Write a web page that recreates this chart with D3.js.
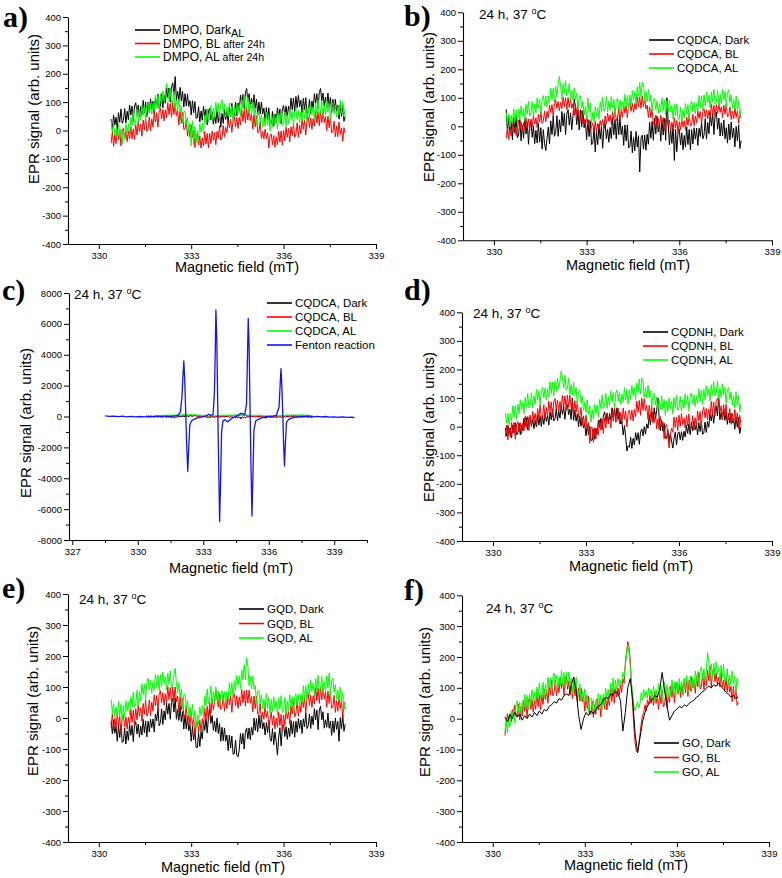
<!DOCTYPE html>
<html>
<head>
<meta charset="utf-8">
<script src="https://cdn.jsdelivr.net/npm/d3@7"></script>
<style>
  html, body { margin: 0; padding: 0; background: #ffffff; }
  svg { display: block; }
  text { font-family: "Liberation Sans", Arial, sans-serif; fill: #000; }
</style>
</head>
<body>
<script>
// ---------------- DATA ----------------
// Field sweep of the noisy spectra (mT); samples are evenly spaced between these ends
const sweepStart = 330.4;
const sweepEnd = 338.0;

// a) DMPO
const dmpoDark = [40,5,54,19,47,5,63,29,76,25, 35,77,26,68,38,90,54,86,34,86, 98,59,90,48,84,55,106,62,100,49, 100,64,112,76,103,60,117,82,128,76, 85,129,80,124,96,150,116,150,100,154, 168,125,190,106,138,105,152,104,138,83, 130,87,128,85,105,55,105,63,102,43, 45,84,30,69,36,85,46,75,20,69, 78,37,66,22,56,25,74,28,64,11, 60,25,74,39,67,25,83,49,96,45, 55,100,52,97,70,125,92,127,78,133, 148,104,130,83,114,80,126,77,110,54, 100,58,100,58,79,30,81,40,80,22, 25,67,16,58,28,80,44,76,24,76, 88,52,86,47,86,60,114,73,114,66, 120,80,124,84,107,60,113,74,116,60, 65,109,60,104,76,130,96,130,80,134, 148,105,132,86,118,85,132,84,117,63, 110,68,110,68,89,40,91,50,90,32, 50];
const dmpoBL = [-45,-4,-56,-15,-46,5,-32,-1,-54,-3, 8,-30,-2,-39,-2,-30,12,-29,6,-32, 20,-16,32,-4,23,-20,37,2,48,-4, 5,48,-2,41,12,65,30,63,12,65, 78,41,74,34,72,45,98,56,96,47, 100,56,96,52,71,20,69,26,64,4, 5,39,-20,14,-24,20,-24,0,-60,-16, -12,-51,-20,-62,-26,-55,-4,-48,-10,-61, -10,-46,-2,-34,-7,-50,-3,-28,16,-34, -25,18,-22,11,-8,35,10,40,-6,35, 48,12,46,7,46,20,74,33,74,26, 80,37,78,35,55,5,55,13,52,-7, -5,30,-28,-3,-30,5,-28,-8,-62,-17, -12,-50,-18,-59,-22,-50,-2,-41,-2,-52, 0,-36,12,-24,7,-40,13,-18,26,-24, -15,27,-24,18,-12,40,4,36,-16,36, 48,11,44,4,42,15,68,26,66,17, 70,28,70,28,49,0,51,10,50,-8, -5,33,-22,16,-22,30,-14,8,-38,10, -10];
const dmpoAL = [38,-5,22,-16,8,-25,22,-26,6,-47, 0,-31,22,-9,23,-15,47,17,68,21, 35,77,26,68,38,90,54,86,34,86, 98,62,96,57,96,70,124,83,124,76, 130,93,140,103,129,165,141,105,150,97, 105,137,76,108,68,110,64,86,24,66, 68,22,46,-3,26,-55,34,-50,14,-44, 0,-30,24,-6,27,-10,53,24,76,30, 45,87,36,78,48,100,64,96,44,96, 108,66,94,49,82,50,98,51,86,32, 80,46,96,62,91,50,109,76,124,74, 85,119,60,94,56,100,56,80,20,64, 68,27,56,12,46,15,64,18,54,-1, 50,13,60,23,49,5,61,25,70,17, 25,66,14,55,24,75,38,69,16,67, 78,39,70,28,64,35,86,42,80,29, 80,44,92,56,83,40,97,62,108,56, 65,104,50,89,56,105,66,95,40,89, 98,59,90,48,84,55,106,62,100,49, 80];

// b) and c) CQDCA
const cqdcaDark = [60,-26,37,-17,17,-47,29,-24,37,-40, -31,24,-51,4,-42,27,-27,14,-63,6, 19,-39,1,-61,-14,-58,10,-55,-5,-80, -12,-61,-85,-42,-3,-62,19,-29,37,-35, -21,37,-35,23,-20,52,1,45,-29,43, 59,4,47,-12,38,95,68,6,59,-13, 58,-2,55,-5,23,-47,23,-36,19,-64, -61,-4,-90,-20,-64,7,-45,-2,-77,-6, 9,-44,-11,-56,-4,-43,30,-30,24,-45, 28,-30,29,-29,1,-67,5,-52,5,-76, -71,-17,-93,-39,-86,-18,-73,-33,-160,-43, -31,-80,-31,-84,-28,-63,14,-42,17,-49, 28,-27,35,-20,13,-52,23,-31,29,-49, 100,12,-65,-12,-60,7,-120,-10,-89,-22, -11,-66,-23,-82,-32,-73,-2,-64,-11,-83, -12,-62,-5,-45,-7,-67,-7,-36,16,-44, -31,27,-45,13,-26,46,1,45,-29,43, 49,-10,29,-34,12,-33,22,-44,-5,-59, 8,-47,15,-40,-7,-72,-1,-51,5,-78, -50];
const cqdcaBL = [-42,-7,-46,-11,-34,9,-18,-3,-32,-3, 22,-9,16,-17,12,-11,30,-5,26,-15, 26,-2,36,8,30,-4,42,14,52,10, 18,54,16,52,30,74,48,76,36,80, 92,62,87,55,84,62,103,69,100,60, 101,66,98,63,79,38,78,43,75,26, 28,55,8,25,4,39,4,23,-16,-1, 12,-17,18,-21,10,-11,20,-1,24,-7, 36,8,46,18,40,6,52,24,62,20, 28,62,22,56,32,74,46,72,30,72, 82,53,80,49,80,59,102,69,102,63, 106,69,98,61,74,31,68,31,60,9, 8,39,-4,27,0,39,8,31,-14,25, 32,1,22,-17,14,-11,30,-5,20,-23, 16,-12,26,-2,20,-14,32,4,42,0, 8,42,2,36,12,54,28,52,10,52, 62,32,58,26,56,34,76,42,74,34, 76,45,80,49,68,31,74,43,78,33, 38,68,24,54,26,64,32,54,10,46, 30];
const cqdcaAL = [48,10,42,-3,38,10,62,19,58,8, 60,24,72,36,63,20,77,42,88,36, 45,87,36,78,48,100,64,96,44,96, 108,72,106,67,106,80,134,93,134,86, 140,103,150,175,139,95,151,115,160,107, 115,150,92,127,90,135,92,117,58,103, 108,63,88,40,70,30,100,50,82,5, 50,17,68,35,65,25,85,53,102,53, 65,104,50,89,56,105,66,95,40,89, 98,60,92,51,88,60,112,69,108,58, 110,76,126,92,121,80,139,106,154,104, 155,149,90,124,86,130,86,110,50,94, 98,58,88,45,80,50,100,55,92,40, 90,49,92,51,73,25,77,37,78,21, 25,67,16,58,28,80,44,76,24,76, 88,51,84,44,82,55,108,66,106,57, 110,73,120,83,109,65,121,85,130,77, 85,125,72,112,80,130,92,122,68,118, 128,84,110,63,94,60,106,57,90,34, 60];

// c) Fenton reaction: [field (mT), signal]
const fentonSpectrum = [
  [328.5,40],[328.7,10],[328.9,30],[329.1,-10],[329.3,20],[329.5,-20],[329.7,10],[329.9,-30],
  [330.1,0],[330.3,-20],[330.5,10],[330.7,-10],[330.9,20],[331.1,0],[331.3,30],[331.5,10],
  [331.7,40],[331.85,80],[331.95,300],[332.02,1200],[332.07,2600],[332.11,3600],[332.15,2400],
  [332.19,600],[332.24,-1800],[332.29,-3550],[332.33,-2200],[332.38,-600],[332.45,-300],
  [332.55,-200],[332.7,-100],[332.9,-40],[333.1,20],[333.25,150],[333.35,60],[333.45,150],
  [333.51,1500],[333.55,4200],[333.58,6900],[333.62,5000],[333.66,1000],[333.71,-3500],
  [333.75,-6800],[333.79,-4500],[333.84,-1000],[333.9,-300],[334.0,-200],[334.1,-350],
  [334.2,-250],[334.35,-80],[334.5,20],[334.6,60],[334.7,200],[334.8,180],[334.9,120],
  [334.98,800],[335.02,3500],[335.06,6350],[335.1,4500],[335.14,800],[335.19,-3500],
  [335.23,-6450],[335.27,-4200],[335.32,-900],[335.4,-300],[335.5,-200],[335.65,-100],
  [335.8,-40],[336.0,0],[336.2,30],[336.35,80],[336.47,600],[336.52,2000],[336.56,3100],
  [336.6,2000],[336.64,200],[336.68,-1800],[336.72,-3200],[336.76,-1800],[336.81,-400],
  [336.9,-200],[337.0,-120],[337.2,-50],[337.4,-20],[337.6,0],[337.8,30],[338.0,-20],
  [338.2,10],[338.4,-30],[338.6,0],[338.8,-40],[339.0,-20],[339.2,-50],[339.4,-30],
  [339.6,-60],[339.8,-40],[339.93,-80]
];

// d) CQDNH
const cqdnhDark = [-4,-33,4,-25,-4,-39,6,-23,14,-29, -22,12,-28,6,-14,30,2,32,-12,32, 32,1,26,-7,22,-1,40,5,36,1, 36,8,46,18,40,6,52,24,62,20, 28,62,21,55,30,72,43,69,26,68, 77,42,62,25,100,22,58,19,45,0, 36,1,31,-5,10,-32,7,-29,2,-48, -47,-9,-44,-6,-25,22,-2,29,-9,38, 52,22,48,16,46,24,66,32,64,24, 66,25,50,9,18,-29,4,-37,-85,-67, -72,-37,-76,-41,-64,-21,-48,-21,-62,-19, -8,-32,0,-26,10,-6,42,6,52,18, 66,28,56,100,30,-14,22,-16,12,-40, -42,-11,-54,-23,-50,-75,-42,-19,-64,-25, -18,-46,-18,-48,-16,-36,4,-24,10,-28, 16,-15,20,-11,8,-29,14,-17,18,-27, -22,16,-20,18,-2,44,20,50,12,58, 72,38,110,24,50,24,62,22,52,8, 46,13,46,13,30,-9,32,-1,32,-24, 0];
const cqdnhBL = [-35,6,-46,-5,-36,15,-22,15,-44,7, 18,-19,14,-26,12,-15,38,-4,36,-13, 40,5,54,19,47,5,63,29,76,25, 35,77,26,68,38,90,54,86,34,86, 98,60,92,51,88,60,110,69,108,58, 110,68,110,68,89,40,91,50,90,32, 35,67,6,38,2,40,-6,14,-58,-4, -2,-55,-4,-43,-4,-30,24,-13,24,-24, 30,-5,44,9,37,-5,53,19,66,15, 25,64,10,49,16,65,26,55,0,49, 58,23,58,20,60,35,90,50,92,40, 100,57,98,55,75,25,75,33,72,13, 15,50,-8,27,-10,35,0,17,-42,3, 8,-28,-75,-33,-6,-20,34,-3,34,-14, 40,1,46,7,31,-5,39,3,44,-11, -5,38,-12,31,2,55,20,53,2,55, 68,31,64,24,62,35,88,46,86,37, 90,100,92,51,73,25,77,37,78,21, 25,63,8,46,12,60,20,48,-8,40, 5];
const cqdnhAL = [48,12,46,7,46,20,74,33,74,26, 80,45,94,59,87,45,103,69,116,65, 75,117,66,108,78,130,94,126,74,126, 138,101,134,94,132,105,158,116,156,107, 160,123,170,133,159,195,171,135,180,127, 135,170,112,147,110,155,112,137,78,123, 128,82,106,57,86,50,94,43,74,16, 60,27,78,45,75,35,95,63,112,63, 75,116,64,105,74,125,88,119,66,117, 128,89,120,78,114,85,136,92,130,79, 130,95,144,109,137,95,153,119,166,115, 170,160,102,137,100,145,102,127,68,113, 118,76,104,59,92,60,108,61,96,40, 90,53,100,63,89,45,101,65,110,57, 65,106,54,95,64,115,78,109,56,107, 118,80,112,71,108,80,132,89,128,78, 130,94,142,106,133,90,147,112,158,108, 115,160,98,136,102,150,112,138,82,130, 138,95,122,76,108,65,122,74,108,53, 80];

// e) GQD
const gqdDark = [-10,-51,-8,-49,-27,-75,-23,-63,-22,-79, -75,-33,-84,-42,-72,-20,-56,-24,-76,-24, -12,-51,-20,-62,-26,-55,-4,-48,-10,-61, -10,-45,-4,-31,-3,-45,13,-9,32,-25, -15,29,-21,23,-6,48,13,47,-4,50, 63,19,65,-4,27,-8,38,-12,21,-36, 10,-35,4,-41,-23,-75,-27,-71,-34,-95, -95,-47,-92,-44,-68,-10,-40,-2,-48,2, 28,-17,8,-40,-10,-45,0,-50,-18,-75, -30,-73,-32,-75,-55,-105,-55,-97,-58,-117, -115,-71,-120,-125,-104,-50,-84,-50,-100,-46, -32,-67,-32,-70,-30,-55,0,-40,-2,-45, 10,-33,8,-35,-15,-55,-15,-47,-8,-67, -75,-34,-86,-45,-76,-120,-62,-31,-90,-29, -22,-60,-28,-69,-32,-60,-8,-51,-12,-62, -10,-46,-2,-34,-7,-50,-3,-28,16,-34, -25,13,-34,6,-22,30,-6,26,-38,26, 38,-6,20,-33,-6,-30,16,-33,-10,-56, -10,-47,0,-37,-11,-75,1,-35,10,-43, -20];
const gqdBL = [-25,14,-40,-1,-34,15,-24,5,-50,1, 8,-29,4,-36,2,-25,28,-14,26,-23, 30,-6,42,6,33,-10,47,12,58,6, 15,58,8,51,22,75,40,73,22,75, 88,50,82,41,78,50,102,59,98,48, 100,56,100,52,71,20,69,26,64,4, 5,39,-20,14,-24,20,-24,0,-60,-16, -12,-45,-8,-44,-2,-25,32,-6,38,-7, 50,14,62,26,53,90,61,36,78,28, 35,75,22,62,30,80,42,72,18,68, 78,40,72,31,68,40,92,49,88,38, 90,48,90,48,69,20,71,30,70,12, 15,46,-6,18,-4,40,2,22,-30,-6, 18,-22,8,-35,0,-30,20,-25,12,-40, 10,-24,26,-2,21,-20,39,13,54,4, 15,57,6,48,18,70,34,66,14,66, 78,41,74,34,72,45,98,56,96,47, 100,59,102,61,83,35,87,47,88,31, 35,73,18,56,22,70,30,58,2,50, 30];
const gqdAL = [60,17,46,3,36,5,54,8,44,-9, 40,6,56,22,51,10,69,36,84,34, 45,89,40,84,56,110,76,110,60,114, 128,90,122,81,118,90,142,99,138,88, 140,102,148,110,135,90,145,108,152,98, 105,138,160,111,80,115,70,93,32,75, 78,32,56,7,36,0,44,-7,24,-34, 10,-19,36,7,41,5,69,41,94,49, 65,103,48,86,52,100,60,88,32,80, 88,52,86,47,86,60,114,73,114,66, 120,87,138,105,135,95,155,123,172,123, 195,166,104,135,94,135,92,105,46,87, 88,46,74,29,62,30,78,31,66,12, 60,22,68,30,55,10,65,28,72,18, 25,66,14,55,24,75,38,69,16,67, 78,42,76,37,76,50,104,63,104,56, 110,74,122,86,113,70,127,92,138,86, 95,134,80,119,86,135,96,145,70,119, 128,83,108,60,90,55,100,50,82,25, 55];

// f) GO
const goDark = [5,-10,15,0,20, 5,15,-5,10,0, 15,5,20,10,25, 15,30,25,40,45, 55,50,65,60,75, 80,75,110,135,90, 10,-35,0,20,10, 25,15,30,40,45, 60,70,65,80,75, 90,80,60,-40,20, 100,130,60,-50,-110, -60,-10,20,40,55, 60,75,70,95,150, 90,40,-5,10,25, 30,40,35,45,40, 50,55,60,70,75, 85,90,100,105,100, 110,105,115,105,95, 85,80,70,75,65, 70];
const goBL = [-55,-14,16,-8,11,-10,29,12,44,14, 5,47,-4,38,8,60,24,56,4,56, 68,30,62,21,58,30,82,39,76,28, 80,46,96,62,91,50,109,76,124,74, 85,126,74,115,84,135,98,129,76,127, 138,95,122,76,108,65,122,74,108,53, 100,57,98,55,75,25,75,33,72,13, 15,56,4,45,14,65,28,59,6,57, 68,32,67,28,68,42,97,56,98,50, 95,70,100,75,110,85,130,115,180,215, 250,230,190,110,40,-30,-80,-105,-110,-85, -50,-15,10,20,45,25,60,45,75,50, 80,42,88,50,75,30,85,48,92,38, 45,88,36,81,52,105,70,103,52,105, 118,79,111,69,106,77,129,84,124,72, 125,89,136,100,126,82,139,104,149,96, 105,147,95,137,106,157,123,170,100,151, 163,120,148,108,135,103,150,103,125,90, 130,87,128,85,105,55,105,63,102,43, 55];
const goAL = [-45,-1,-46,-6,-26,24,-2,34,-14,42, 58,21,54,14,52,25,78,36,76,27, 80,45,94,59,87,45,103,69,116,65, 75,118,66,111,82,135,100,133,82,135, 148,109,140,98,134,105,156,112,150,99, 150,108,151,109,131,82,134,93,134,76, 80,114,56,90,53,97,54,78,19,63, 68,30,62,21,58,30,82,39,76,28, 80,47,98,65,95,55,115,83,132,83, 125,95,130,105,125,110,150,135,170,205, 240,215,170,120,75,40,25,45,55,35, 50,85,60,95,70,90,65,100,75,95, 65,106,54,95,64,115,78,109,56,107, 118,79,110,68,104,75,126,82,120,69, 120,83,130,93,119,75,131,95,140,87, 95,138,88,131,102,155,120,153,102,155, 168,130,162,121,158,215,182,139,178,128, 180,140,184,144,167,120,173,134,176,120, 125,162,106,141,108,155,114,137,84,131, 110];

// Tick values
const fieldTicks = [330, 333, 336, 339];
const fieldMinorTicks = [331.5, 334.5, 337.5];
const fieldTicksC = [327, 330, 333, 336, 339];
const fieldMinorTicksC = [328.5, 331.5, 334.5, 337.5, 340.5];
const signalTicks = [-400, -300, -200, -100, 0, 100, 200, 300, 400];
const signalMinorTicks = [-350, -250, -150, -50, 50, 150, 250, 350];
const signalTicksC = [-8000, -6000, -4000, -2000, 0, 2000, 4000, 6000, 8000];
const signalMinorTicksC = [-7000, -5000, -3000, -1000, 1000, 3000, 5000, 7000];

// Text
const conditionNote = "24 h, 37 ";
const xTitle = "Magnetic field (mT)";
const yTitle = "EPR signal (arb. units)";

// ---------------- LAYOUT / STYLE ----------------
const C_DARK = "#000000", C_BL = "#ff0000", C_AL = "#00ff00", C_FENTON = "#1414f0";

const toSeries = vals => vals.map((v, i) => [sweepStart + i * (sweepEnd - sweepStart) / (vals.length - 1), v]);

const panels = [
  { label: "a)", lx: 3, ly: 27, x0: 68, x1: 376, yT: 17, yB: 244,
    xd: [329, 339], yd: [-400, 400], xt: fieldTicks, xm: fieldMinorTicks, yt: signalTicks, ym: signalMinorTicks,
    xTitle: [237, 272], yTitle: [33, 109], note: null,
    legend: { x: 135, y: 30, dy: 13.5 },
    series: [
      { data: toSeries(dmpoDark), color: C_DARK, parts: [["DMPO, Dark", 12, 0], ["AL", 11, 3]] },
      { data: toSeries(dmpoBL), color: C_BL, parts: [["DMPO, BL", 12, 0], [" after 24h", 10.5, 0]] },
      { data: toSeries(dmpoAL), color: C_AL, parts: [["DMPO, AL", 12, 0], [" after 24h", 10.5, 0]] }
    ] },
  { label: "b)", lx: 404, ly: 26, x0: 463, x1: 772, yT: 12.3, yB: 240.3,
    xd: [329, 339], yd: [-400, 400], xt: fieldTicks, xm: fieldMinorTicks, yt: signalTicks, ym: signalMinorTicks,
    xTitle: [628, 270], yTitle: [428, 107], note: [479, 19],
    legend: { x: 649, y: 40, dy: 14 },
    series: [
      { data: toSeries(cqdcaDark), color: C_DARK, parts: [["CQDCA, Dark", 11.5, 0]] },
      { data: toSeries(cqdcaBL), color: C_BL, parts: [["CQDCA, BL", 11.5, 0]] },
      { data: toSeries(cqdcaAL), color: C_AL, parts: [["CQDCA,  AL", 11.5, 0]] }
    ] },
  { label: "c)", lx: 2, ly: 300, x0: 69, x1: 367, yT: 293, yB: 540,
    xd: [326.85, 340.5], yd: [-8000, 8000], xt: fieldTicksC, xm: fieldMinorTicksC, yt: signalTicksC, ym: signalMinorTicksC,
    xTitle: [231, 573], yTitle: [25, 423], note: [74, 299],
    legend: { x: 267, y: 303, dy: 14 },
    series: [
      { data: toSeries(cqdcaDark), color: C_DARK, parts: [["CQDCA, Dark", 11.5, 0]] },
      { data: toSeries(cqdcaBL), color: C_BL, parts: [["CQDCA, BL", 11.5, 0]] },
      { data: toSeries(cqdcaAL), color: C_AL, parts: [["CQDCA,  AL", 11.5, 0]] },
      { data: fentonSpectrum, color: C_FENTON, parts: [["Fenton reaction", 11.5, 0]] }
    ] },
  { label: "d)", lx: 404, ly: 300, x0: 462, x1: 772, yT: 312.3, yB: 541,
    xd: [329, 339], yd: [-400, 400], xt: fieldTicks, xm: fieldMinorTicks, yt: signalTicks, ym: signalMinorTicks,
    xTitle: [631, 571], yTitle: [428, 427], note: [473, 318],
    legend: { x: 643, y: 332, dy: 14 },
    series: [
      { data: toSeries(cqdnhDark), color: C_DARK, parts: [["CQDNH, Dark", 11.5, 0]] },
      { data: toSeries(cqdnhBL), color: C_BL, parts: [["CQDNH, BL", 11.5, 0]] },
      { data: toSeries(cqdnhAL), color: C_AL, parts: [["CQDNH,  AL", 11.5, 0]] }
    ] },
  { label: "e)", lx: 2, ly: 598, x0: 68, x1: 376, yT: 594, yB: 842,
    xd: [329, 339], yd: [-400, 400], xt: fieldTicks, xm: fieldMinorTicks, yt: signalTicks, ym: signalMinorTicks,
    xTitle: [223, 872], yTitle: [32, 701], note: [79, 604],
    legend: { x: 239, y: 609, dy: 14.5 },
    series: [
      { data: toSeries(gqdDark), color: C_DARK, parts: [["GQD, Dark", 11.5, 0]] },
      { data: toSeries(gqdBL), color: C_BL, parts: [["GQD,  BL", 11.5, 0]] },
      { data: toSeries(gqdAL), color: C_AL, parts: [["GQD,  AL", 11.5, 0]] }
    ] },
  { label: "f)", lx: 404, ly: 600, x0: 462, x1: 769, yT: 595.3, yB: 842,
    xd: [329, 339], yd: [-400, 400], xt: fieldTicks, xm: fieldMinorTicks, yt: signalTicks, ym: signalMinorTicks,
    xTitle: [626, 870], yTitle: [424, 702], note: [486, 613],
    legend: { x: 654, y: 743, dy: 14.5 },
    drawOrder: [1, 2, 0],
    series: [
      { data: toSeries(goDark), color: C_DARK, parts: [["GO, Dark", 11.5, 0]] },
      { data: toSeries(goBL), color: C_BL, parts: [["GO, BL", 11.5, 0]] },
      { data: toSeries(goAL), color: C_AL, parts: [["GO, AL", 11.5, 0]] }
    ] }
];

// ---------------- DRAW ----------------
const svg = d3.select("body").append("svg").attr("width", 782).attr("height", 878);
svg.append("rect").attr("width", 782).attr("height", 878).attr("fill", "#fff");

panels.forEach(p => {
  const g = svg.append("g");
  const x = d3.scaleLinear().domain(p.xd).range([p.x0, p.x1]);
  const y = d3.scaleLinear().domain(p.yd).range([p.yB, p.yT]);

  // minor ticks
  g.append("g").attr("transform", `translate(0,${p.yB})`)
    .call(d3.axisBottom(x).tickValues(p.xm).tickSize(3).tickSizeOuter(0).tickFormat(""))
    .call(s => s.select(".domain").remove());
  g.append("g").attr("transform", `translate(${p.x0},0)`)
    .call(d3.axisLeft(y).tickValues(p.ym).tickSize(3).tickSizeOuter(0).tickFormat(""))
    .call(s => s.select(".domain").remove());

  // series
  const line = d3.line().x(d => x(d[0])).y(d => y(d[1]));
  const order = p.drawOrder || p.series.map((s, i) => i);
  order.forEach(i => {
    const s = p.series[i];
    g.append("path").datum(s.data)
      .attr("d", line)
      .attr("fill", "none")
      .attr("stroke", s.color)
      .attr("stroke-width", s.color === C_FENTON ? 1.3 : 1.0)
      .attr("stroke-linejoin", "round");
  });

  // major axes
  const xa = g.append("g").attr("transform", `translate(0,${p.yB})`)
    .call(d3.axisBottom(x).tickValues(p.xt).tickSize(5).tickSizeOuter(0).tickPadding(3).tickFormat(d => String(d)));
  const ya = g.append("g").attr("transform", `translate(${p.x0},0)`)
    .call(d3.axisLeft(y).tickValues(p.yt).tickSize(5).tickSizeOuter(0).tickPadding(2).tickFormat(d => String(d)));
  [xa, ya].forEach(a => {
    a.selectAll("text").attr("font-size", 9.5).attr("font-family", "Liberation Sans, Arial, sans-serif").attr("fill", "#000");
    a.selectAll("line").attr("stroke", "#000");
    a.select(".domain").attr("stroke", "#000").attr("stroke-width", 1.1);
  });

  // legend
  p.series.forEach((s, i) => {
    const ly = p.legend.y + i * p.legend.dy;
    g.append("line").attr("x1", p.legend.x).attr("x2", p.legend.x + 25)
      .attr("y1", ly).attr("y2", ly).attr("stroke", s.color).attr("stroke-width", 1.6);
    const t = g.append("text").attr("x", p.legend.x + 28).attr("y", ly + 4.2);
    s.parts.forEach(pt => {
      const ts = t.append("tspan").attr("font-size", pt[1]).text(pt[0]);
      if (pt[2]) ts.attr("dy", pt[2]);
    });
  });

  // condition note
  if (p.note) {
    const t = g.append("text").attr("x", p.note[0]).attr("y", p.note[1]).attr("font-size", 13.5);
    t.append("tspan").text(conditionNote);
    t.append("tspan").attr("font-size", 9).attr("dy", -5).text("o");
    t.append("tspan").attr("dy", 5).text("C");
  }

  // axis titles
  g.append("text").attr("x", p.xTitle[0]).attr("y", p.xTitle[1])
    .attr("text-anchor", "middle").attr("font-size", 14.5).text(xTitle);
  g.append("text").attr("transform", `translate(${p.yTitle[0]},${p.yTitle[1]}) rotate(-90)`)
    .attr("text-anchor", "middle").attr("dominant-baseline", "central")
    .attr("font-size", 15).text(yTitle);

  // panel label
  g.append("text").attr("x", p.lx).attr("y", p.ly)
    .style("font-family", "'Liberation Serif', 'Times New Roman', serif")
    .attr("font-weight", "bold").attr("font-size", 30).text(p.label);
});
</script>
</body>
</html>
